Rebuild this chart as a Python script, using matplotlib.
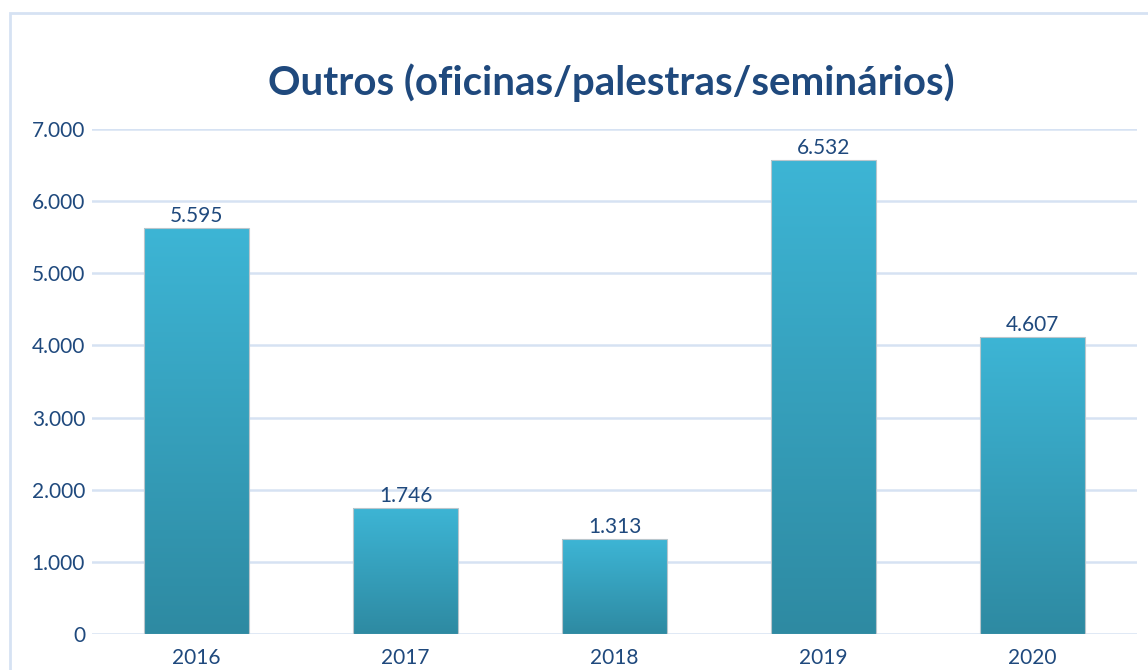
import numpy as np
import matplotlib
matplotlib.use('Agg')
import matplotlib.pyplot as plt
from matplotlib.patches import Rectangle

# data
years = ['2016', '2017', '2018', '2019', '2020']
bar_heights = [5625, 1750, 1315, 6565, 4110]   # as drawn in the picture
bar_labels = ['5.595', '1.746', '1.313', '6.532', '4.607']
yticks = [0, 1000, 2000, 3000, 4000, 5000, 6000, 7000]
ytick_labels = ['0', '1.000', '2.000', '3.000', '4.000', '5.000', '6.000', '7.000']

text_color = '#1f497d'
grid_color = '#d6e2f3'

plt.rcParams['font.family'] = ['Lato', 'DejaVu Sans']

fig = plt.figure(figsize=(11.48, 6.70), dpi=100)
W, H = 1148, 670

# outer frame of the chart area
fig.patches.append(Rectangle((10 / W, -0.1), 1.2, (670 - 13) / H + 0.1,
                             transform=fig.transFigure, fill=False,
                             edgecolor=grid_color, lw=2))

ax = fig.add_axes([92 / W, 36 / H, (1137 - 92) / W, (634 - 129) / H])
x = np.arange(len(years))
bars = ax.bar(x, bar_heights, width=0.5, color='none',
              edgecolor='#b9c6cc', lw=0.8, zorder=3)

# vertical gradient inside each bar
grad = np.linspace(0, 1, 256).reshape(-1, 1)
cmap = matplotlib.colors.LinearSegmentedColormap.from_list('g', ['#2e8aa2', '#3db5d5'])
for b in bars:
    x0, w, h = b.get_x(), b.get_width(), b.get_height()
    im = ax.imshow(grad, extent=[x0, x0 + w, 0, h], origin='lower', cmap=cmap,
                   aspect='auto', zorder=2)
    im.set_clip_path(b)

for xi, h, lab in zip(x, bar_heights, bar_labels):
    ax.text(xi, h + 30, lab, ha='center', va='bottom', fontsize=15, color=text_color)

ax.set_xlim(-0.5, len(years) - 0.5)
ax.set_ylim(0, 7000)
ax.set_xticks(x)
ax.set_xticklabels(years)
ax.set_yticks(yticks)
ax.set_yticklabels(ytick_labels)
ax.tick_params(length=0, labelsize=15, labelcolor=text_color)
ax.tick_params(axis='y', pad=5)
ax.tick_params(axis='x', pad=10)
ax.grid(axis='y', color=grid_color, lw=1.8, zorder=0)
ax.set_axisbelow(True)
for s in ax.spines.values():
    s.set_visible(False)

fig.text(611 / W, 1 - 83 / H, 'Outros (oficinas/palestras/seminários)', ha='center',
         va='center', fontsize=29, fontweight='bold', color=text_color)

fig.savefig('out.png', dpi=100)
